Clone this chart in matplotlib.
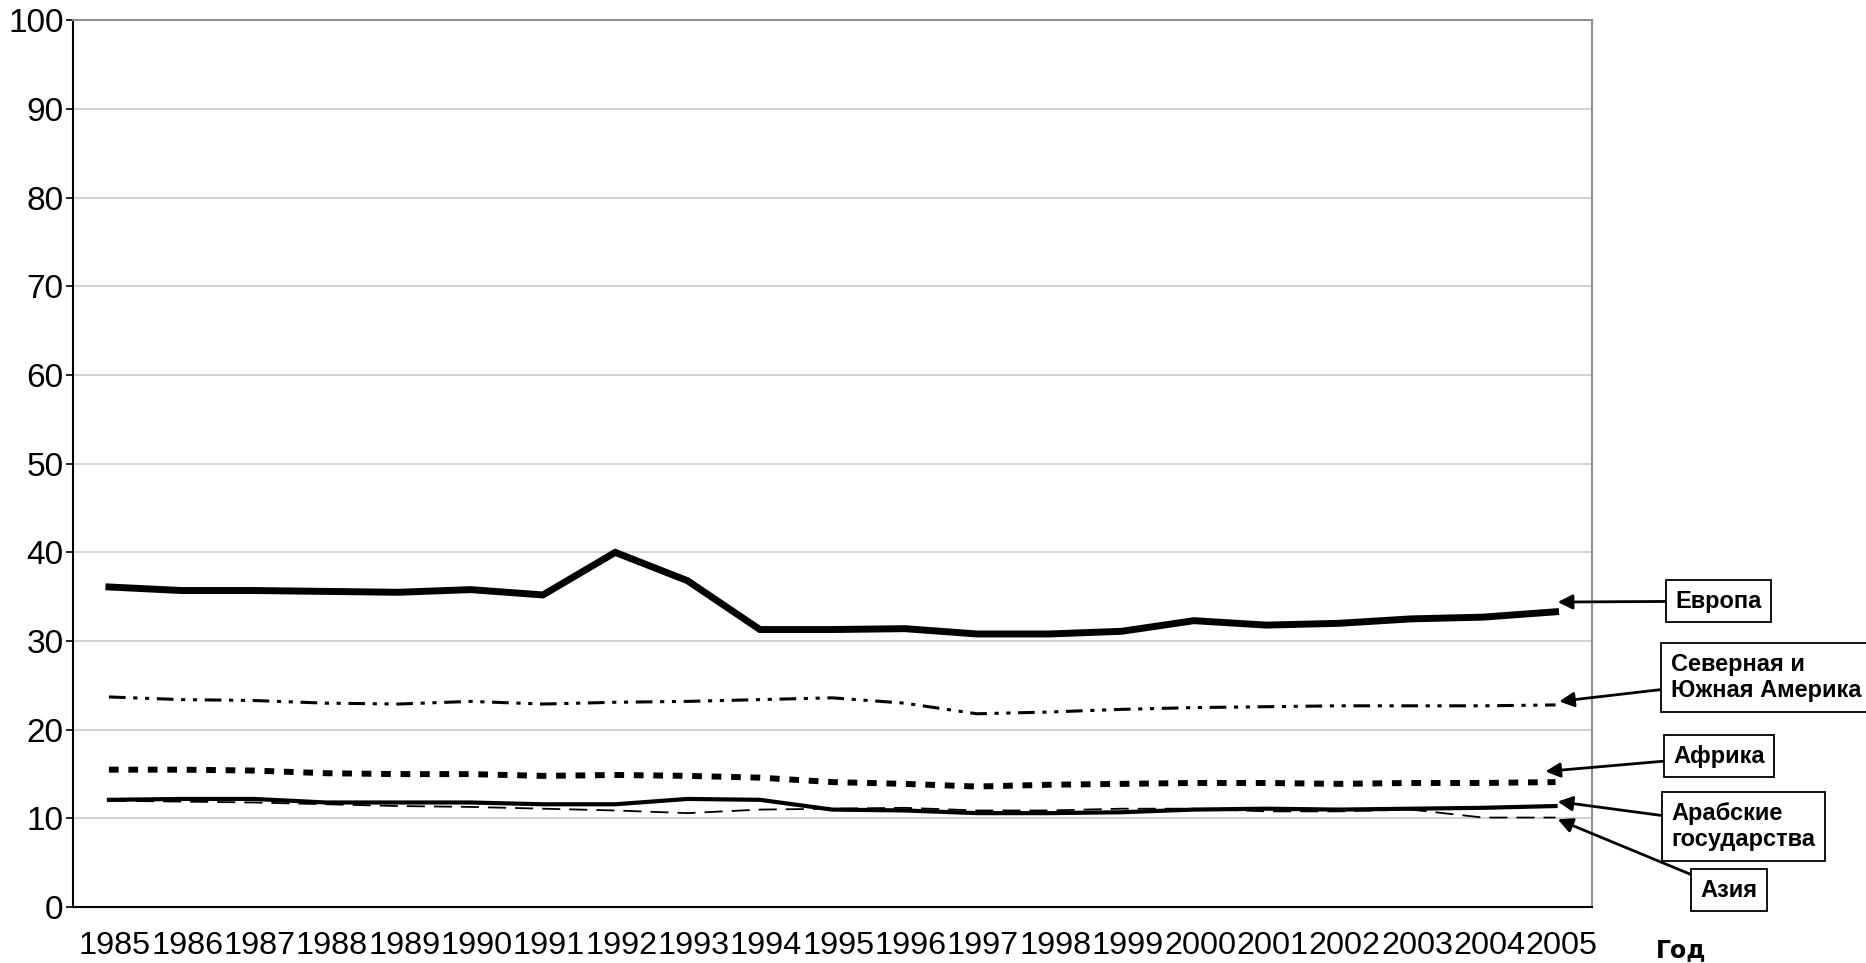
import matplotlib
matplotlib.use("Agg")
import matplotlib.pyplot as plt
import matplotlib.transforms as mtransforms

plt.rcParams['font.family'] = ['Liberation Sans', 'DejaVu Sans']
plt.rcParams['lines.scale_dashes'] = False

# Data
years = list(range(1985, 2006))
europe = [36.1, 35.7, 35.7, 35.6, 35.5, 35.8, 35.2, 40.0, 36.8, 31.3, 31.3,
          31.4, 30.8, 30.8, 31.1, 32.3, 31.8, 32.0, 32.5, 32.7, 33.3]
americas = [23.7, 23.4, 23.3, 23.0, 22.9, 23.2, 22.9, 23.1, 23.2, 23.4, 23.6,
            23.0, 21.8, 22.0, 22.3, 22.5, 22.6, 22.7, 22.7, 22.7, 22.8]
africa = [15.5, 15.5, 15.4, 15.1, 15.0, 15.0, 14.8, 14.9, 14.8, 14.6, 14.1,
          13.9, 13.6, 13.8, 13.9, 14.0, 14.0, 13.9, 14.0, 14.0, 14.1]
arab = [12.1, 12.2, 12.2, 11.8, 11.8, 11.8, 11.6, 11.6, 12.2, 12.1, 11.0,
        10.9, 10.6, 10.6, 10.7, 11.0, 11.1, 11.0, 11.1, 11.2, 11.4]
asia = [12.0, 11.9, 11.8, 11.6, 11.4, 11.3, 11.1, 10.9, 10.6, 11.0, 11.1,
        11.2, 10.9, 10.9, 11.1, 11.1, 10.8, 10.8, 11.0, 10.1, 10.1]

labels = ["Европа", "Северная и\nЮжная Америка", "Африка",
          "Арабские\nгосударства", "Азия"]

fig = plt.figure(figsize=(18.66, 9.63), dpi=100)
ax = fig.add_axes([0.039, 0.058, 0.814, 0.921])

ax.plot(years, europe, color="black", lw=5, solid_joinstyle="miter")
ax.plot(years, americas, color="black", lw=2.2,
        dashes=(12, 5.5, 3, 5.5, 3, 5.5))
ax.plot(years, africa, color="black", lw=4.3, dashes=(7, 7))
ax.plot(years, arab, color="black", lw=3)
ax.plot(years, asia, color="black", lw=1.3, dashes=(13, 6.5))

ax.set_xlim(1984.5, 2005.5)
ax.set_ylim(0, 100)
ax.set_yticks(range(0, 101, 10))
ax.set_xticks(years)
ax.set_xticklabels([str(y) for y in years])
ax.tick_params(axis="y", labelsize=24, length=5, width=1.2, pad=1.5)
ax.tick_params(axis="x", labelsize=23.3, length=0, pad=17)
shift = mtransforms.ScaledTranslation(6 / 100, 0, fig.dpi_scale_trans)
for t in ax.get_xticklabels():
    t.set_transform(t.get_transform() + shift)
ax.yaxis.grid(True, color="#d0d0d0", lw=1.3)
ax.set_axisbelow(True)
for side in ("top", "right"):
    ax.spines[side].set_color("#909090")
    ax.spines[side].set_linewidth(1.5)
for side in ("left", "bottom"):
    ax.spines[side].set_color("black")
    ax.spines[side].set_linewidth(1.5)

# Labels with arrows
tips = [(2005.03, 34.4), (2005.05, 23.2), (2004.86, 15.3),
        (2005.03, 11.9), (2005.03, 9.9)]
boxes = [(2007.25, 34.5), (2007.91, 25.9), (2007.26, 17.0),
         (2007.6, 9.1), (2007.4, 1.9)]
for lab, tip, box in zip(labels, tips, boxes):
    ax.annotate(lab, xy=tip, xytext=box, ha="center", va="center",
                multialignment="left", fontsize=17, fontweight="bold",
                annotation_clip=False,
                bbox=dict(boxstyle="square,pad=0.4", fc="white",
                          ec="black", lw=1.3),
                arrowprops=dict(arrowstyle="-|>", color="black", lw=2,
                                mutation_scale=22, shrinkA=0, shrinkB=0))

fig.text(0.901, 0.006, "Год", fontsize=17, fontweight="bold",
         family="DejaVu Sans", ha="center", va="baseline")

fig.savefig("out.png", dpi=100)
